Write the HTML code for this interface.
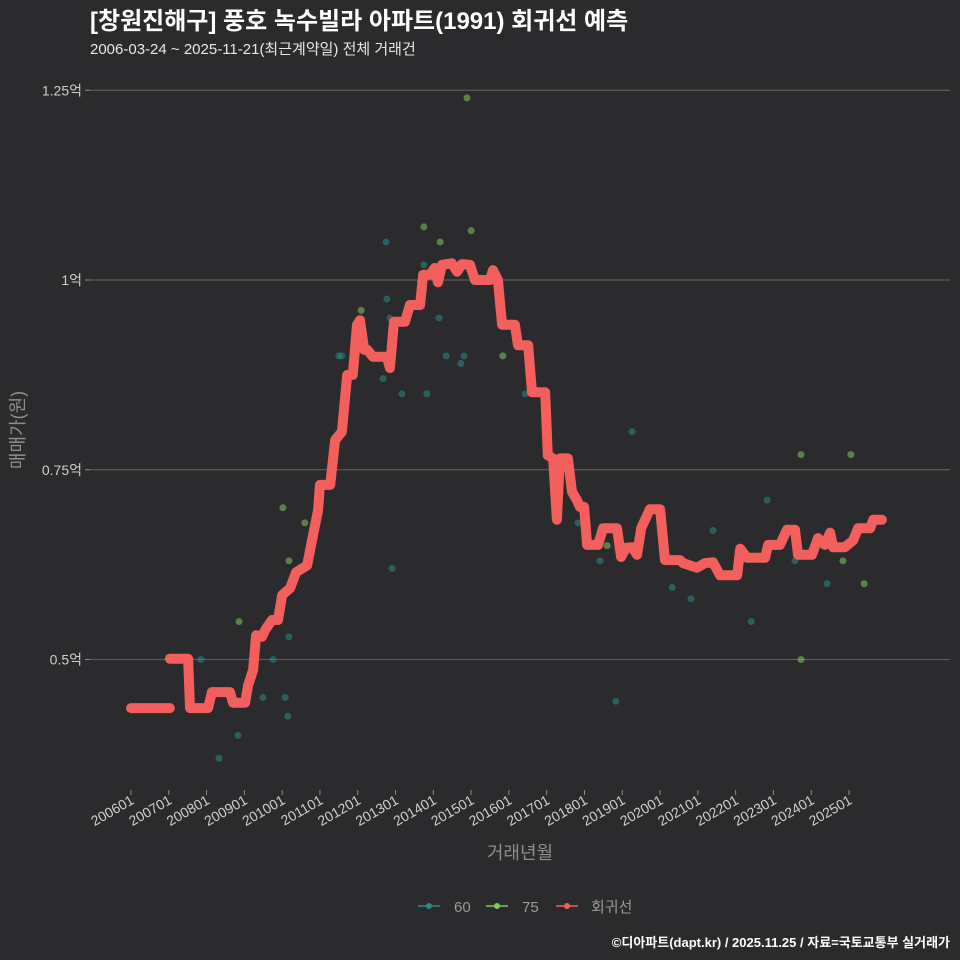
<!DOCTYPE html>
<html><head><meta charset="utf-8">
<style>
html,body{margin:0;padding:0;background:#2b2a2c;}
svg{display:block;font-family:"Liberation Sans","Noto Sans CJK KR",sans-serif;}
</style></head>
<body>
<svg id="chart" width="960" height="960" viewBox="0 0 960 960">
<rect x="0" y="0" width="960" height="960" fill="#2b2a2c"/>
<text x="90" y="29" fill="#ffffff" font-size="24" font-weight="bold">[창원진해구] 풍호 녹수빌라 아파트(1991) 회귀선 예측</text>
<text x="90" y="54" fill="#e8e8e8" font-size="15">2006-03-24 ~ 2025-11-21(최근계약일) 전체 거래건</text>
<g id="grid"></g>
<g id="yaxis"></g>
<g id="xaxis"></g>
<g id="points"></g>
<g id="line"></g>
<text x="520" y="859" fill="#8e8e8e" font-size="18" text-anchor="middle">거래년월</text>
<text transform="translate(24,430) rotate(-90)" fill="#8e8e8e" font-size="18" text-anchor="middle">매매가(원)</text>
<g>
  <g>
    <line x1="418" y1="906" x2="440" y2="906" stroke="#2a8a8a" stroke-width="1.5"/>
    <circle cx="429" cy="906" r="3" fill="#2a8a8a"/>
    <text x="454" y="912" fill="#9a9a9a" font-size="15">60</text>
  </g>
  <g>
    <line x1="486" y1="906" x2="508" y2="906" stroke="#7ecb5e" stroke-width="1.5"/>
    <circle cx="497" cy="906" r="3" fill="#7ecb5e"/>
    <text x="522" y="912" fill="#9a9a9a" font-size="15">75</text>
  </g>
  <g>
    <line x1="556" y1="906" x2="578" y2="906" stroke="#f25f5c" stroke-width="1.5"/>
    <circle cx="567" cy="906" r="3" fill="#f25f5c"/>
    <text x="591" y="912" fill="#9a9a9a" font-size="15">회귀선</text>
  </g>
</g>
<text x="950" y="947" fill="#ffffff" font-size="13" font-weight="bold" text-anchor="end">©디아파트(dapt.kr) / 2025.11.25 / 자료=국토교통부 실거래가</text>
</svg>
<script>
const yTicks = [0.5, 0.75, 1, 1.25];
const yTickLabels = ["0.5억", "0.75억", "1억", "1.25억"];
const xTickYears = [2006,2007,2008,2009,2010,2011,2012,2013,2014,2015,2016,2017,2018,2019,2020,2021,2022,2023,2024,2025];
const xTickLabels = ["200601","200701","200801","200901","201001","201101","201201","201301","201401","201501","201601","201701","201801","201901","202001","202101","202201","202301","202401","202501"];
const line1Dates = [2006.00, 2007.03];
const line1Values = [0.436, 0.436];
const line2Dates = [2007.03,2007.51,2007.56,2008.04,2008.14,2008.62,2008.70,2009.02,2009.10,2009.23,2009.31,2009.47,2009.55,2009.73,2009.89,2010.00,2010.21,2010.37,2010.66,2010.79,2010.95,2011.00,2011.27,2011.40,2011.58,2011.72,2011.87,2011.98,2012.06,2012.17,2012.25,2012.40,2012.77,2012.85,2012.96,2013.25,2013.38,2013.65,2013.73,2013.91,2014.04,2014.12,2014.23,2014.49,2014.63,2014.76,2014.97,2015.10,2015.50,2015.58,2015.71,2015.82,2016.16,2016.24,2016.51,2016.61,2016.96,2017.03,2017.17,2017.27,2017.35,2017.56,2017.67,2017.80,2017.88,2017.99,2018.07,2018.36,2018.49,2018.86,2018.97,2019.10,2019.26,2019.39,2019.50,2019.73,2020.00,2020.13,2020.53,2020.61,2020.98,2021.19,2021.40,2021.59,2022.04,2022.12,2022.30,2022.78,2022.86,2023.17,2023.36,2023.57,2023.65,2024.02,2024.18,2024.36,2024.50,2024.58,2024.89,2025.11,2025.24,2025.56,2025.64,2025.87];
const line2Values = [0.501,0.501,0.436,0.436,0.457,0.457,0.443,0.443,0.466,0.486,0.532,0.530,0.539,0.552,0.552,0.585,0.594,0.615,0.624,0.657,0.697,0.730,0.730,0.789,0.800,0.875,0.875,0.941,0.947,0.908,0.908,0.899,0.899,0.884,0.945,0.945,0.967,0.967,1.007,1.007,1.016,0.997,1.020,1.022,1.011,1.021,1.020,1.000,1.000,1.013,1.000,0.941,0.941,0.914,0.914,0.852,0.852,0.769,0.765,0.684,0.765,0.765,0.721,0.710,0.701,0.701,0.651,0.651,0.673,0.673,0.635,0.647,0.648,0.638,0.673,0.698,0.698,0.631,0.631,0.627,0.621,0.627,0.628,0.611,0.611,0.646,0.634,0.634,0.651,0.651,0.671,0.671,0.638,0.638,0.660,0.651,0.667,0.648,0.648,0.657,0.673,0.673,0.684,0.684];
const tealDates = [2007.85,2008.33,2008.83,2009.49,2009.76,2010.08,2010.15,2010.18,2011.58,2011.50,2012.75,2012.77,2012.85,2012.67,2012.91,2013.17,2013.83,2014.15,2014.34,2014.73,2014.81,2013.75,2016.43,2017.83,2018.41,2018.83,2019.26,2020.32,2020.82,2021.40,2022.41,2022.83,2023.57,2024.42];
const tealValues = [0.50,0.37,0.40,0.45,0.50,0.45,0.425,0.53,0.90,0.90,1.05,0.975,0.95,0.87,0.62,0.85,0.85,0.95,0.90,0.89,0.90,1.02,0.85,0.68,0.63,0.445,0.80,0.595,0.58,0.67,0.55,0.71,0.63,0.60];
const greenDates = [2008.86,2010.02,2010.60,2010.18,2012.09,2013.75,2014.18,2014.89,2015.00,2015.84,2018.60,2023.73,2025.05,2023.73,2024.84,2025.40];
const greenValues = [0.55,0.70,0.68,0.63,0.96,1.07,1.05,1.24,1.065,0.90,0.65,0.77,0.77,0.50,0.63,0.60];

const NS = "http://www.w3.org/2000/svg";
function xs(t){ return 131 + (t - 2006) * 37.79; }
function ys(v){ return 280 - (v - 1) * 759; }
function mk(tag, attrs, parent){
  const el = document.createElementNS(NS, tag);
  for (const k in attrs) el.setAttribute(k, attrs[k]);
  parent.appendChild(el);
  return el;
}
const grid = document.getElementById('grid');
const yaxis = document.getElementById('yaxis');
yTicks.forEach((v, i) => {
  const g = mk('line', {x1: 90, x2: 950, y1: ys(v), y2: ys(v), stroke: '#5a5a5a', 'stroke-width': 1.2}, grid);
  
  
  const tk = mk('line', {x1: 85, x2: 90, y1: ys(v), y2: ys(v), stroke: '#8a8a8a', 'stroke-width': 1}, yaxis);
  
  
  const t = mk('text', {x: 82, y: ys(v) + 5, fill: '#cfcfcf', 'font-size': 14, 'text-anchor': 'end'}, yaxis);
  t.textContent = yTickLabels[i];
  
  
});
const xaxis = document.getElementById('xaxis');
xTickYears.forEach((yr, i) => {
  const x = xs(yr);
  const tk = mk('line', {x1: x, x2: x, y1: 790, y2: 795, stroke: '#8a8a8a', 'stroke-width': 1}, xaxis);
  
  
  const t = mk('text', {x: 0, y: 0, fill: '#cfcfcf', 'font-size': 14, 'text-anchor': 'end', transform: `translate(${x + 4},${803}) rotate(-30)`}, xaxis);
  t.textContent = xTickLabels[i];
  
  
});
const pts = document.getElementById('points');
tealDates.forEach((d, i) => {
  const c = mk('circle', {cx: xs(d), cy: ys(tealValues[i]), r: 3.5, fill: '#2a8a8a', 'fill-opacity': 0.55}, pts);
  
  
});
greenDates.forEach((d, i) => {
  const c = mk('circle', {cx: xs(d), cy: ys(greenValues[i]), r: 3.5, fill: '#7ecb5e', 'fill-opacity': 0.55}, pts);
  
  
});
const lg = document.getElementById('line');
[[line1Dates, line1Values], [line2Dates, line2Values]].forEach(([ds, vs]) => {
  const d = ds.map((t, i) => (i ? 'L' : 'M') + xs(t).toFixed(1) + ',' + ys(vs[i]).toFixed(1)).join(' ');
  const p = mk('path', {d: d, fill: 'none', stroke: '#f25f5c', 'stroke-width': 10, 'stroke-linejoin': 'round', 'stroke-linecap': 'round'}, lg);
  
  
});
</script>
</body></html>
